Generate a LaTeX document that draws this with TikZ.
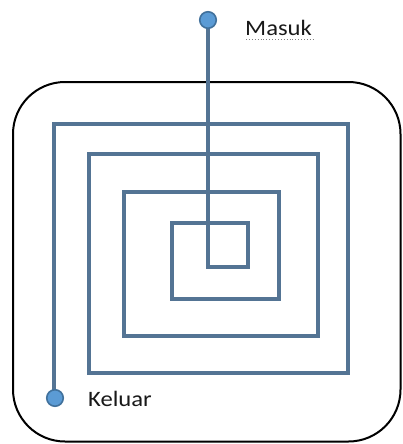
\documentclass[tikz,border=0pt]{standalone}
\usepackage{fontspec}
\setmainfont{Carlito}
\definecolor{spiral}{RGB}{84,116,148}
\definecolor{dotfill}{RGB}{91,155,213}
\definecolor{dotline}{RGB}{65,113,156}
\begin{document}
\begin{tikzpicture}[x=1pt,y=-1pt,
  spiralline/.style={draw=spiral,line width=3.4pt,line join=miter},
  enddot/.style={circle,fill=dotfill,draw=dotline,line width=1.6pt,minimum size=16.5pt,inner sep=0pt},
  lbl/.style={font=\fontsize{22}{22}\selectfont,text=black!90,inner sep=0pt,anchor=base west}]
\useasboundingbox (0,0) rectangle (402,444);
\fill[white] (0,0) rectangle (402,444);
\draw[black,line width=2pt,rounded corners=52pt] (13,82) rectangle (400.5,441.5);
\coordinate (start) at (208,20);
\coordinate (finish) at (55,398);
\draw[spiralline] (start) -- (208,267) -- (248,267) -- (248,223) -- (172,223) -- (172,299)
  -- (279,299) -- (279,192) -- (124,192) -- (124,336) -- (318,336) -- (318,154)
  -- (89,154) -- (89,373) -- (348,373) -- (348,124) -- (54,124) -- (54,398);
\node[enddot] (in) at (start) {};
\node[enddot] (out) at (finish) {};
\node[lbl] (masuk) at (245,36) {\scalebox{1.12}[1]{Masuk}};
\draw[gray,line width=0.9pt,dotted] (246,39.5) -- (314,39.5);
\node[lbl] (keluar) at (88,406) {\scalebox{1.12}[1]{Keluar}};
\end{tikzpicture}
\end{document}
